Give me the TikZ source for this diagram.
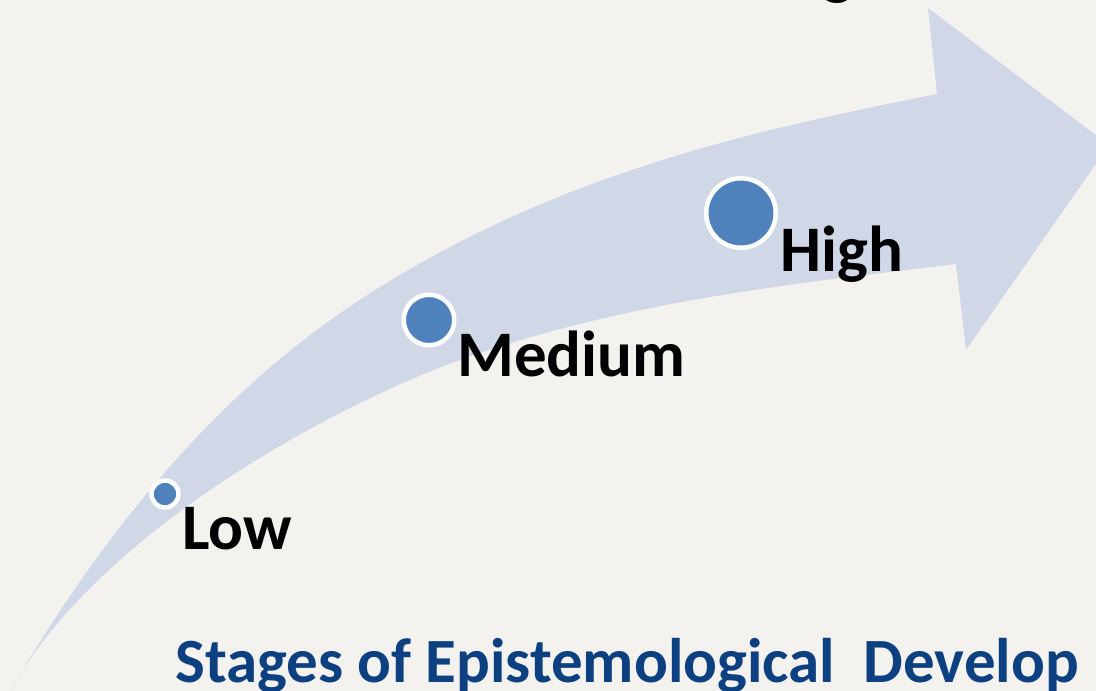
\documentclass[tikz,border=0pt]{standalone}
\usepackage{fontspec}
\setmainfont{Carlito}
\definecolor{paper}{RGB}{243,242,238}
\definecolor{bandfill}{RGB}{208,216,232}
\definecolor{dotblue}{RGB}{79,129,189}
\definecolor{titleblue}{RGB}{13,64,128}
\begin{document}
\begin{tikzpicture}[x=1pt,y=-1pt,
  stage/.style={circle, inner sep=0pt, fill=dotblue, draw=white, line width=4.5pt},
  level/.style={anchor=base west, inner sep=0pt, font=\fontsize{65}{78}\selectfont\bfseries},
  caption/.style={anchor=base west, inner sep=0pt, text=titleblue, font=\fontsize{63}{75}\selectfont\bfseries}]
  % canvas
  \useasboundingbox (0,0) rectangle (1096,691);
  \fill[paper] (0,0) rectangle (1096,691);
  % heading above, mostly out of frame
  \node[level] (head) at (822,-8) {g};
  % curved rising arrow
  \fill[bandfill]
    (10,691) .. controls (133,482) and (257,363) .. (380,287)
             .. controls (566,172) and (751,131) .. (937,94)
    -- (928,8) -- (1109,145) -- (966,350) -- (956,264)
             .. controls (791,284) and (625,301) .. (460,360)
             .. controls (340,403) and (100,529) .. (10,691)
    -- cycle;
  % stage markers
  \node[stage, minimum size=27pt] (lowdot) at (165,494) {};
  \node[stage, minimum size=50.5pt] (meddot) at (429,320) {};
  \node[stage, minimum size=69.5pt] (highdot) at (741,213) {};
  % stage labels
  \node[level] (low) at (182,549) {Low};
  \node[level] (medium) at (457,376) {Medium};
  \node[level] (high) at (780,271) {High};
  % caption
  \node[caption] (title) at (175,682) {Stages of Epistemological\ \ Develop};
\end{tikzpicture}
\end{document}
